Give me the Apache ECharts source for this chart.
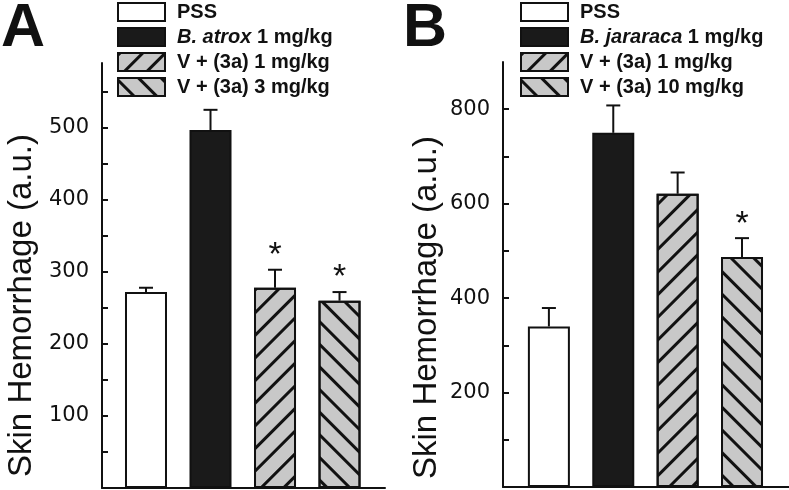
<!DOCTYPE html>
<html>
<head>
<meta charset="utf-8">
<script src="https://cdn.jsdelivr.net/npm/echarts@6/dist/echarts.min.js"></script>
<style>html,body{margin:0;padding:0;background:#fff}#c{width:789px;height:490px}</style>
</head>
<body>
<div id="c"></div>
<script>
// ---- data ----
const groupsA = ['PSS', 'B. atrox 1 mg/kg', 'V + (3a) 1 mg/kg', 'V + (3a) 3 mg/kg'];
const valuesA = [272, 497, 278, 260];
const errorsA = [6, 28, 25, 12];
const marksA = ['', '', '*', '*'];
const groupsB = ['PSS', 'B. jararaca 1 mg/kg', 'V + (3a) 1 mg/kg', 'V + (3a) 10 mg/kg'];
const valuesB = [340, 750, 621, 487];
const errorsB = [39, 58, 45, 40];
const marksB = ['', '', '', '*'];
const ticksA = [50, 100, 150, 200, 250, 300, 350, 400, 450, 500, 550];
const labelsA = [100, 200, 300, 400, 500];
const ticksB = [100, 200, 300, 400, 500, 600, 700, 800];
const labelsB = [200, 400, 600, 800];
const yTitle = 'Skin Hemorrhage (a.u.)';

const FONT = '"Liberation Sans", Arial, Helvetica, sans-serif';
const TICKFONT = '"DejaVu Sans", "Liberation Sans", sans-serif';
const hatchUp = { symbol: 'rect', symbolSize: 1, dashArrayX: [1, 0], dashArrayY: [3, 13], rotation: -Math.PI / 4, color: '#111' };
const hatchDown = { symbol: 'rect', symbolSize: 1, dashArrayX: [1, 0], dashArrayY: [3, 13], rotation: Math.PI / 4, color: '#111' };
const styles = [
  { color: '#ffffff', borderColor: '#111', borderWidth: 2 },
  { color: '#1a1a1a', borderColor: '#111', borderWidth: 2 },
  { color: '#c8c8c8', borderColor: '#111', borderWidth: 2, decal: hatchUp },
  { color: '#c8c8c8', borderColor: '#111', borderWidth: 2, decal: hatchDown }
];

function barSeries(groups, values, gi) {
  return groups.map((g, i) => ({
    type: 'bar', name: g, xAxisIndex: gi, yAxisIndex: gi,
    data: [[i + 1, values[i]]], barWidth: 42, barGap: '-100%',
    itemStyle: styles[i], emphasis: { disabled: true }, z: 2
  }));
}
function errSeries(values, errors, marks, gi) {
  return {
    type: 'custom', xAxisIndex: gi, yAxisIndex: gi, z: 3, silent: true,
    data: values.map((v, i) => [i + 1, v, errors[i]]),
    renderItem: function (params, api) {
      const x = api.value(0), v = api.value(1), e = api.value(2);
      const m = marks[params.dataIndex];
      const p0 = api.coord([x, v]);
      const p1 = api.coord([x, v + e]);
      const children = [
        { type: 'line', shape: { x1: p0[0], y1: p0[1], x2: p1[0], y2: p1[1] }, style: { stroke: '#111', lineWidth: 2 } },
        { type: 'line', shape: { x1: p1[0] - 7, y1: p1[1], x2: p1[0] + 7, y2: p1[1] }, style: { stroke: '#111', lineWidth: 2 } }
      ];
      if (m) {
        children.push({ type: 'text', style: { text: m, x: p1[0], y: p1[1] + 3, textAlign: 'center', textVerticalAlign: 'bottom', font: '34px ' + FONT, fill: '#111' } });
      }
      return { type: 'group', children: children };
    }
  };
}
function yAxisDef(gi, max, ticks, labels, gap, pad) {
  return {
    type: 'value', gridIndex: gi, min: 0, max: max,
    name: yTitle, nameLocation: 'middle', nameRotate: 90, nameGap: gap,
    nameTextStyle: { fontFamily: FONT, fontSize: 33, color: '#111', padding: pad },
    axisLine: { show: true, lineStyle: { color: '#111', width: 2 } },
    axisTick: { show: true, inside: true, length: 6, lineStyle: { color: '#111', width: 2 }, customValues: ticks },
    axisLabel: { color: '#111', fontFamily: TICKFONT, fontSize: 21, margin: 13, customValues: labels },
    splitLine: { show: false }
  };
}
function xAxisDef(gi, min, max) {
  return {
    type: 'value', gridIndex: gi, min: min, max: max,
    axisLine: { show: true, onZero: false, lineStyle: { color: '#111', width: 2 } },
    axisTick: { show: false }, axisLabel: { show: false }, splitLine: { show: false }
  };
}
function legendDef(left, names) {
  return {
    orient: 'vertical', left: left, top: 2, padding: 0, itemWidth: 47, itemHeight: 18, itemGap: 5,
    icon: 'rect', data: names, selectedMode: false,
    textStyle: {
      fontFamily: FONT, fontSize: 20, lineHeight: 20, fontWeight: 'bold', color: '#111', padding: [0, 0, 0, 7],
      rich: { i: { fontFamily: FONT, fontSize: 20, lineHeight: 20, fontWeight: 'bold', fontStyle: 'italic', color: '#111' } }
    },
    formatter: function (n) { return n.replace(/^(B\. [a-z]+)/, '{i|$1}'); }
  };
}

const chart = echarts.init(document.getElementById('c'), null, { renderer: 'canvas' });
chart.setOption({
  animation: false,
  backgroundColor: '#fff',
  title: [
    { text: 'A', left: -4, top: -6, textStyle: { fontFamily: FONT, fontSize: 61, fontWeight: 'bold', color: '#111' } },
    { text: 'B', left: 398, top: -6, textStyle: { fontFamily: FONT, fontSize: 61, fontWeight: 'bold', color: '#111' } }
  ],
  legend: [legendDef(117, groupsA), legendDef(520, groupsB)],
  grid: [
    { left: 102, right: 404, top: 63, bottom: 2 },
    { left: 503, right: 0, top: 62, bottom: 3 }
  ],
  xAxis: [xAxisDef(0, 0.318, 4.705), xAxisDef(1, 0.287, 4.73)],
  yAxis: [
    yAxisDef(0, 590, ticksA, labelsA, 64, [0, 60, 0, 0]),
    yAxisDef(1, 900, ticksB, labelsB, 60, [0, 66, 0, 0])
  ],
  series: [].concat(
    barSeries(groupsA, valuesA, 0),
    [errSeries(valuesA, errorsA, marksA, 0)],
    barSeries(groupsB, valuesB, 1),
    [errSeries(valuesB, errorsB, marksB, 1)]
  )
});
</script>
</body>
</html>
